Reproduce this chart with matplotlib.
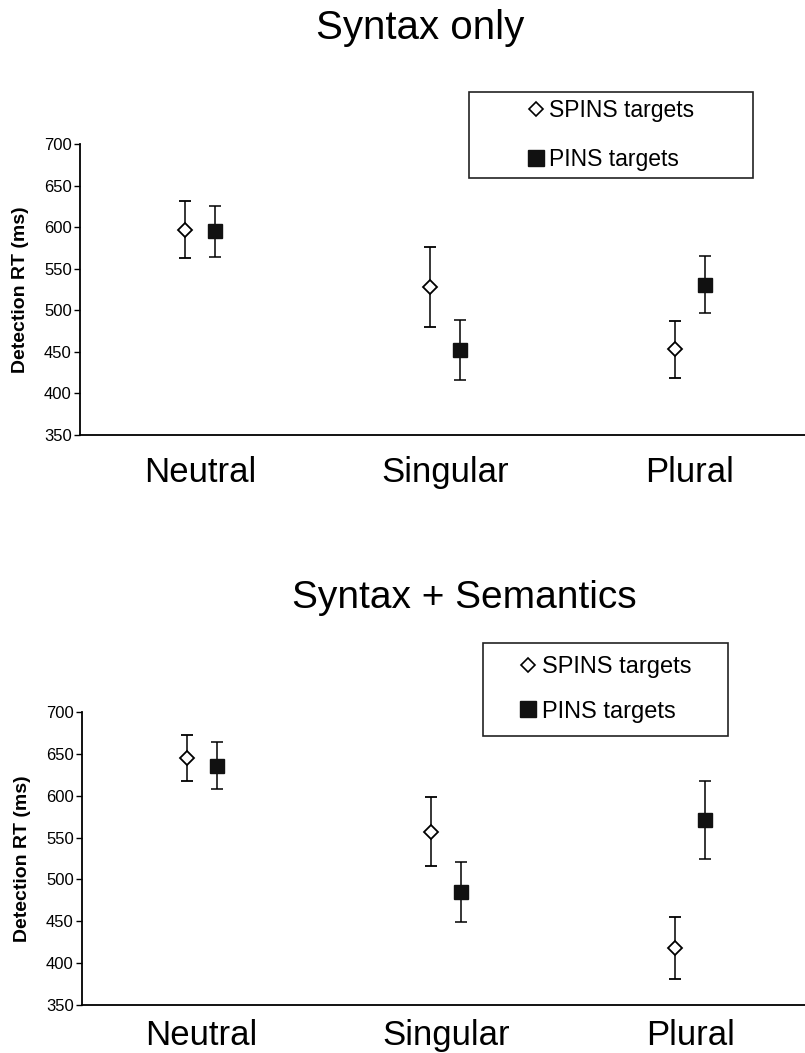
import matplotlib
matplotlib.use("Agg")
import matplotlib.pyplot as plt
from matplotlib.lines import Line2D
from matplotlib.patches import Rectangle
import numpy as np

# conditions and groups
conditions = ["Neutral", "Singular", "Plural"]
groups = ["SPINS targets", "PINS targets"]

# Syntax only (ms), means and error bar half-widths
syn_spins = [597, 528, 453]
syn_spins_err = [34, 48, 34]
syn_pins = [595, 452, 531]
syn_pins_err = [31, 36, 34]

# Syntax + Semantics (ms)
sem_spins = [645, 557, 418]
sem_spins_err = [28, 41, 37]
sem_pins = [636, 485, 571]
sem_pins_err = [28, 36, 47]

yticks = [350, 400, 450, 500, 550, 600, 650, 700]

W, H = 805, 1053
plt.rcParams['font.family'] = ['Liberation Sans', 'DejaVu Sans']

fig = plt.figure(figsize=(W / 100, H / 100), dpi=100)


def px_ax(left, top, right, bottom):
    return fig.add_axes([left / W, 1 - bottom / H, (right - left) / W, (bottom - top) / H])


def panel(ax, spins, spins_err, pins, pins_err, label_pad):
    x = np.arange(len(conditions))
    off = 0.062
    ax.errorbar(x - off, spins, yerr=spins_err, fmt='D', mfc='white', mec='black',
                mew=1.3, ms=7.2, ecolor='black', elinewidth=1.1, capsize=4.3,
                capthick=1.1, zorder=3)
    ax.errorbar(x + off, pins, yerr=pins_err, fmt='s', mfc='#111111', mec='#111111',
                ms=10, ecolor='black', elinewidth=1.1, capsize=4.3,
                capthick=1.1, zorder=3)
    ax.set_xlim(-0.49, 2.47)
    ax.set_ylim(350, 700)
    ax.set_yticks(yticks)
    ax.set_yticklabels([str(v) for v in yticks], fontsize=12)
    ax.set_xticks(x)
    ax.set_xticklabels(conditions, fontsize=25)
    ax.tick_params(axis='x', length=0, pad=label_pad)
    ax.tick_params(axis='y', length=4, width=1, pad=2, direction='out')
    for s in ['top', 'right']:
        ax.spines[s].set_visible(False)
    for s in ['left', 'bottom']:
        ax.spines[s].set_linewidth(1.3)
    ax.set_ylabel("Detection RT (ms)", fontsize=14, fontweight='bold')
    ax.yaxis.set_label_coords(-0.07, 0.5)


def legend_box(left, top, right, bottom, fsize, rows):
    fig.add_artist(Rectangle((left / W, 1 - bottom / H), (right - left) / W,
                             (bottom - top) / H, transform=fig.transFigure,
                             fill=False, edgecolor='#222222', linewidth=1.2))
    handles = [
        Line2D([], [], ls='none', marker='D', mfc='white', mec='black', mew=1.2, ms=7),
        Line2D([], [], ls='none', marker='s', mfc='#111111', mec='#111111', ms=11),
    ]
    fig.legend(handles, groups, loc='center', frameon=False, fontsize=fsize,
               bbox_to_anchor=((left + right) / 2 / W, 1 - (top + bottom) / 2 / H),
               handlelength=0.7, handletextpad=0.25, labelspacing=rows,
               borderpad=0)


ax1 = px_ax(80, 144, 805, 435)
panel(ax1, syn_spins, syn_spins_err, syn_pins, syn_pins_err, 15)
fig.text(420 / W, 1 - 39 / H, "Syntax only", ha='center', va='baseline', fontsize=29)
legend_box(469, 92, 753, 178, 16.5, 1.1)

ax2 = px_ax(82, 712, 805, 1005)
panel(ax2, sem_spins, sem_spins_err, sem_pins, sem_pins_err, 10)
fig.text(464 / W, 1 - 608 / H, "Syntax + Semantics", ha='center', va='baseline', fontsize=28)
legend_box(483, 643, 728, 736, 17, 0.95)

fig.savefig("out.png", dpi=100)
